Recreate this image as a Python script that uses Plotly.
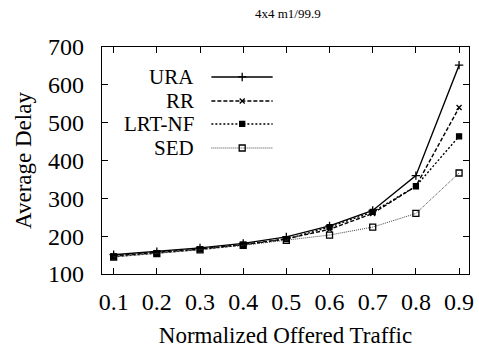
import plotly.graph_objects as go

load = [0.1, 0.2, 0.3, 0.4, 0.5, 0.6, 0.7, 0.8, 0.9]
ura = [151, 159, 169, 181, 198, 227, 268, 360, 652]
rr = [148, 156, 166, 178, 193, 218, 260, 332, 540]
lrt = [146, 155, 165, 177, 192, 224, 264, 332, 464]
sed = [145, 154, 164, 176, 189, 203, 224, 260, 367]
names = ["URA", "RR", "LRT-NF", "SED"]
yticks = [100, 200, 300, 400, 500, 600, 700]

series = [ura, rr, lrt, sed]
dashes = ["solid", "4px,2px", "2px,2px", "1px,1px"]
widths = [1.4, 1.4, 1.4, 1.0]
colors = ["#000", "#000", "#000", "#444"]
symbols = ["cross-thin-open", "x-thin-open", "square", "square-open"]
msizes = [6, 5, 5, 6]

FONT = "Liberation Serif, Times New Roman, serif"

fig = go.Figure()
for s, n, d, w, c, sy, ms in zip(series, names, dashes, widths, colors, symbols, msizes):
    fig.add_trace(go.Scatter(
        x=load, y=s, name=n, mode="lines+markers",
        line=dict(color=c, dash=d, width=w),
        marker=dict(symbol=sy, size=ms, color="#000", line=dict(color="#000", width=1.3)),
        showlegend=False,
    ))

# manual legend (text right-aligned, sample line to the right)
leg_y = [0.868, 0.762, 0.661, 0.555]
for n, d, w, c, sy, ms, yy in zip(names, dashes, widths, colors, symbols, msizes, leg_y):
    fig.add_annotation(x=0.256, y=yy, xref="paper", yref="paper", text=n,
                       showarrow=False, xanchor="right", yanchor="middle",
                       font=dict(family=FONT, size=21, color="#000"))
    fig.add_trace(go.Scatter(
        x=[0.298, 0.382, 0.465], y=[yy, yy, yy], xaxis="x2", yaxis="y2",
        mode="lines", line=dict(color=c, dash=d, width=w), showlegend=False, hoverinfo="skip"))
    fig.add_trace(go.Scatter(
        x=[0.382], y=[yy], xaxis="x2", yaxis="y2", mode="markers",
        marker=dict(symbol=sy, size=ms, color="#000", line=dict(color="#000", width=1.3)),
        showlegend=False, hoverinfo="skip"))

tickfont = dict(family=FONT, size=24, color="#000")
titlefont = dict(family=FONT, size=23, color="#000")
fig.update_layout(
    width=479, height=351,
    margin=dict(l=102, r=5, t=47, b=77),
    paper_bgcolor="white", plot_bgcolor="white",
    font=dict(family=FONT, color="#000"),
    title=dict(text="4x4 m1/99.9", x=0.601, xanchor="center", y=0.963, yanchor="middle",
               font=dict(family=FONT, size=13, color="#000")),
    xaxis=dict(range=[0.073, 0.923], tickvals=load, ticktext=[str(v) for v in load],
               ticks="inside", ticklen=6, tickcolor="#000", mirror="ticks",
               showline=True, linecolor="#000", linewidth=1.2, showgrid=False, zeroline=False,
               tickfont=tickfont, ticklabelstandoff=6,
               title=dict(text="Normalized Offered Traffic", font=titlefont, standoff=12)),
    yaxis=dict(range=[100, 700], tickvals=yticks,
               ticks="inside", ticklen=6, tickcolor="#000", mirror="ticks",
               showline=True, linecolor="#000", linewidth=1.2, showgrid=False, zeroline=False,
               tickfont=tickfont, ticklabelstandoff=12,
               title=dict(text="Average Delay", font=titlefont, standoff=10)),
    xaxis2=dict(range=[0, 1], overlaying="x", visible=False, fixedrange=True),
    yaxis2=dict(range=[0, 1], overlaying="y", visible=False, fixedrange=True),
)
fig.write_html("out.html")
